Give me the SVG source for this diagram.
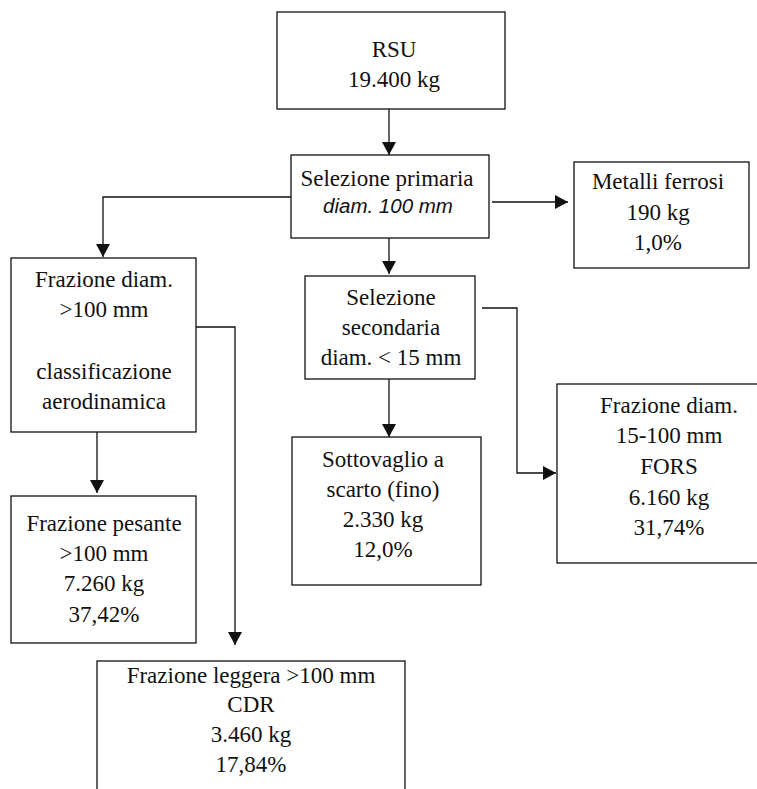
<svg xmlns="http://www.w3.org/2000/svg" width="757" height="789" viewBox="0 0 757 789">
<style>
.box{fill:#fff;stroke:#111;stroke-width:1.3}
.t{font-family:"Liberation Serif","DejaVu Serif",serif;font-size:23px;fill:#111;text-anchor:middle}
.it{font-family:"Liberation Sans","DejaVu Sans",sans-serif;font-size:20.5px;font-style:italic;fill:#111;text-anchor:middle}
.c{fill:none;stroke:#111;stroke-width:1.3}
</style>
<defs>
<marker id="ah" markerUnits="userSpaceOnUse" markerWidth="13" markerHeight="14" refX="13" refY="7" orient="auto">
<path d="M0,0 L13,7 L0,14 z" fill="#111"/>
</marker>
</defs>
<rect width="757" height="789" fill="#fff"/>
<g id="connectors">
<line class="c" x1="389" y1="109" x2="389" y2="155" marker-end="url(#ah)"/>
<line class="c" x1="492" y1="202" x2="568" y2="202" marker-end="url(#ah)"/>
<polyline class="c" points="291,197 103,197 103,257" marker-end="url(#ah)"/>
<line class="c" x1="389" y1="238" x2="389" y2="274" marker-end="url(#ah)"/>
<line class="c" x1="97" y1="432" x2="97" y2="493" marker-end="url(#ah)"/>
<polyline class="c" points="196,327 235,327 235,645" marker-end="url(#ah)"/>
<line class="c" x1="389" y1="379" x2="389" y2="437" marker-end="url(#ah)"/>
<polyline class="c" points="482,308 517,308 517,473 556,473" marker-end="url(#ah)"/>
</g>
<g id="rsu">
<rect class="box" x="277" y="12" width="228" height="97"/>
<text class="t" x="394" y="57">RSU</text>
<text class="t" x="394" y="87">19.400 kg</text>
</g>
<g id="selezione-primaria">
<rect class="box" x="291" y="155" width="198" height="83"/>
<text class="t" x="387" y="186">Selezione primaria</text>
<text class="it" x="388" y="213">diam. 100 mm</text>
</g>
<g id="metalli-ferrosi">
<rect class="box" x="574" y="162" width="175" height="106"/>
<text class="t" x="658" y="189">Metalli ferrosi</text>
<text class="t" x="658" y="220">190 kg</text>
<text class="t" x="658" y="250">1,0%</text>
</g>
<g id="frazione-100">
<rect class="box" x="11" y="258" width="185" height="174"/>
<text class="t" x="104" y="287">Frazione diam.</text>
<text class="t" x="104" y="317">&gt;100 mm</text>
<text class="t" x="104" y="379">classificazione</text>
<text class="t" x="104" y="409">aerodinamica</text>
</g>
<g id="selezione-secondaria">
<rect class="box" x="305" y="276" width="170" height="103"/>
<text class="t" x="391" y="305">Selezione</text>
<text class="t" x="391" y="335">secondaria</text>
<text class="t" x="391" y="365">diam. &lt; 15 mm</text>
</g>
<g id="fors">
<rect class="box" x="557" y="384" width="224" height="179"/>
<text class="t" x="669" y="413">Frazione diam.</text>
<text class="t" x="669" y="443">15-100 mm</text>
<text class="t" x="669" y="474">FORS</text>
<text class="t" x="669" y="505">6.160 kg</text>
<text class="t" x="669" y="535">31,74%</text>
</g>
<g id="sottovaglio">
<rect class="box" x="292" y="437" width="189" height="148"/>
<text class="t" x="383" y="467">Sottovaglio a</text>
<text class="t" x="383" y="497">scarto (fino)</text>
<text class="t" x="383" y="527">2.330 kg</text>
<text class="t" x="383" y="557">12,0%</text>
</g>
<g id="frazione-pesante">
<rect class="box" x="11" y="496" width="185" height="147"/>
<text class="t" x="104" y="531">Frazione pesante</text>
<text class="t" x="104" y="561">&gt;100 mm</text>
<text class="t" x="104" y="591">7.260 kg</text>
<text class="t" x="104" y="622">37,42%</text>
</g>
<g id="frazione-leggera">
<rect class="box" x="97" y="661" width="308" height="140"/>
<text class="t" x="251" y="683">Frazione leggera &gt;100 mm</text>
<text class="t" x="251" y="712">CDR</text>
<text class="t" x="251" y="742">3.460 kg</text>
<text class="t" x="251" y="772">17,84%</text>
</g>
</svg>
